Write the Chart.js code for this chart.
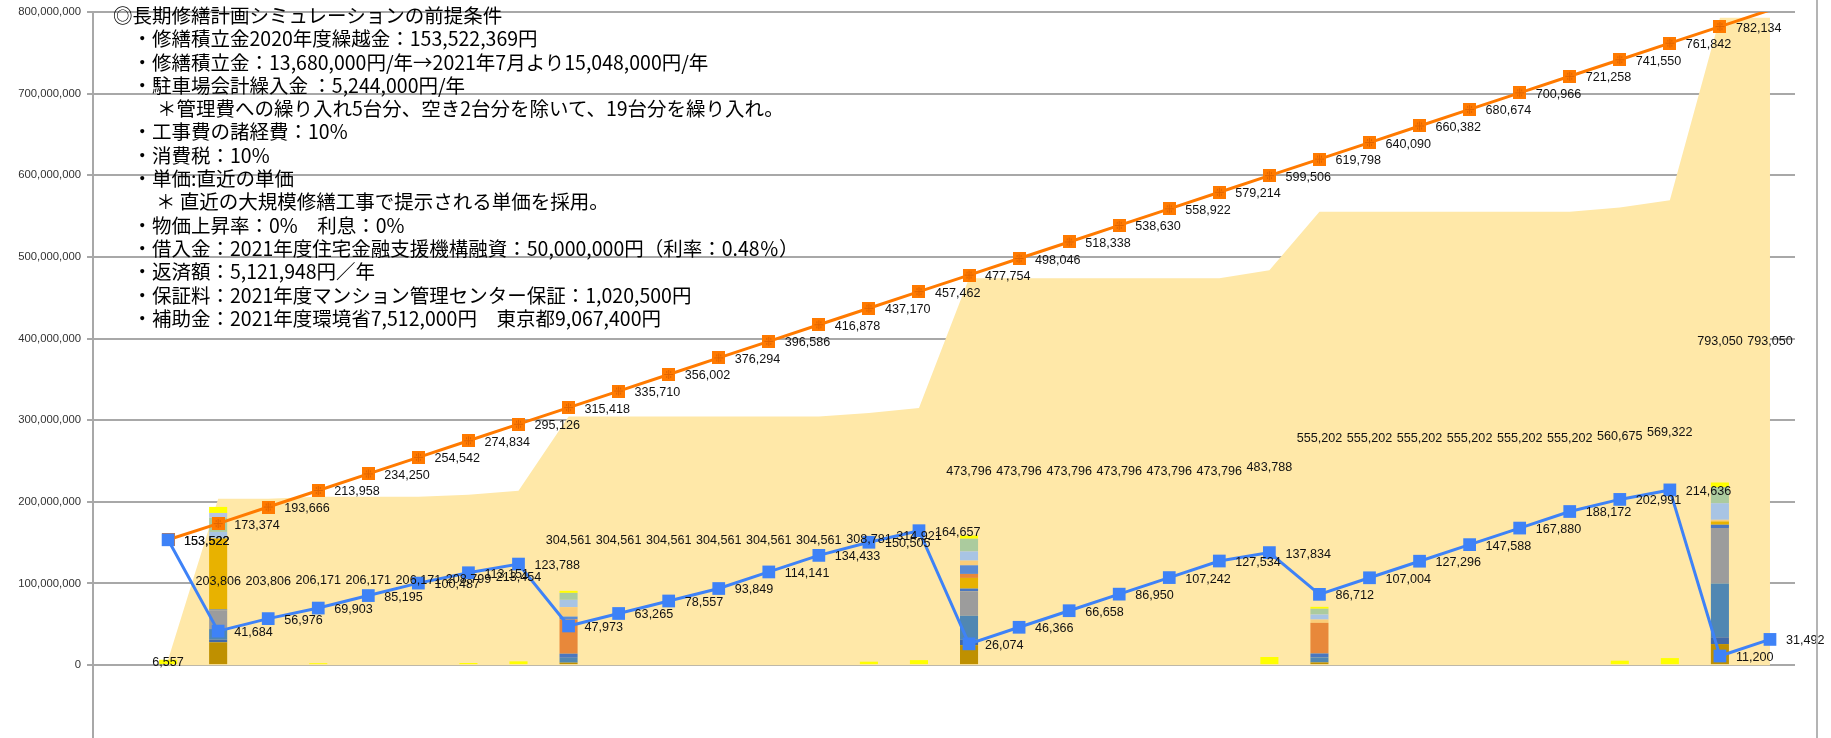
<!DOCTYPE html>
<html lang="ja">
<head>
<meta charset="utf-8">
<title>長期修繕計画シミュレーション</title>
<script src="https://cdn.jsdelivr.net/npm/chart.js@4.4.1/dist/chart.umd.min.js"></script>
<style>
  html, body { margin: 0; padding: 0; background: #fff; overflow: hidden; }
  #wrap { position: relative; width: 1831px; height: 738px; overflow: hidden; }
  #frame { position: absolute; left: 1816px; top: 0; width: 2px; height: 738px; background: #b4b4b4; }
  #notes { position: absolute; left: 113px; top: 3px; font-family: "Noto Sans CJK JP", sans-serif;
           font-size: 19.5px; line-height: 23.3px; color: #000; white-space: pre; }
</style>
</head>
<body>
<div id="wrap">
  <canvas id="chart" width="1831" height="750"></canvas>
  <div id="frame"></div>
  <div id="notes"></div>
</div>
<script>
// values are in thousand yen, as in the data labels
const K = 1000;

// first category is an empty column
const years = ['', '2020', '2021', '2022', '2023', '2024', '2025', '2026', '2027', '2028', '2029',
  '2030', '2031', '2032', '2033', '2034', '2035', '2036', '2037', '2038', '2039',
  '2040', '2041', '2042', '2043', '2044', '2045', '2046', '2047', '2048', '2049',
  '2050', '2051', '2052'];

const balance = [null,
  153522, 41684, 56976, 69903, 85195, 100487, 113151, 123788, 47973, 63265,
  78557, 93849, 114141, 134433, 150505, 164657, 26074, 46366, 66658, 86950,
  107242, 127534, 137834, 86712, 107004, 127296, 147588, 167880, 188172, 202991,
  214636, 11200, 31492];

const incomeTotal = [null,
  153522, 173374, 193666, 213958, 234250, 254542, 274834, 295126, 315418, 335710,
  356002, 376294, 396586, 416878, 437170, 457462, 477754, 498046, 518338, 538630,
  558922, 579214, 599506, 619798, 640090, 660382, 680674, 700966, 721258, 741550,
  761842, 782134, 802426];

const costTotal = [null,
  6557, 203806, 203806, 206171, 206171, 206171, 208799, 213454, 304561, 304561,
  304561, 304561, 304561, 304561, 308781, 314921, 473796, 473796, 473796, 473796,
  473796, 473796, 483788, 555202, 555202, 555202, 555202, 555202, 555202, 560675,
  569322, 793050, 793050];

// yearly works, bottom of the stack first
const works = [
  { name: '仮設工事', color: '#BF9000', data: [null,
    0, 27900, 0, 0, 0, 0, 0, 0, 3000, 0,
    0, 0, 0, 0, 0, 0, 24500, 0, 0, 0,
    0, 0, 0, 3300, 0, 0, 0, 0, 0, 0,
    0, 25800, 0] },
  { name: '屋根防水', color: '#4169A8', data: [null,
    0, 3300, 0, 0, 0, 0, 0, 0, 0, 0,
    0, 0, 0, 0, 0, 0, 6500, 0, 0, 0,
    0, 0, 0, 0, 0, 0, 0, 0, 0, 0,
    0, 8200, 0] },
  { name: '外壁塗装', color: '#5087B2', data: [null,
    0, 13000, 0, 0, 0, 0, 0, 0, 6000, 0,
    0, 0, 0, 0, 0, 0, 29500, 0, 0, 0,
    0, 0, 0, 6100, 0, 0, 0, 0, 0, 0,
    0, 66000, 0] },
  { name: '床防水', color: '#9C9C9C', data: [null,
    0, 23000, 0, 0, 0, 0, 0, 0, 0, 0,
    0, 0, 0, 0, 0, 0, 30000, 0, 0, 0,
    0, 0, 0, 0, 0, 0, 0, 0, 0, 0,
    0, 68000, 0] },
  { name: '鉄部塗装', color: '#4A77C0', data: [null,
    0, 1000, 0, 0, 0, 0, 0, 0, 5000, 0,
    0, 0, 0, 0, 0, 0, 3300, 0, 0, 0,
    0, 0, 0, 4900, 0, 0, 0, 0, 0, 0,
    0, 4000, 0] },
  { name: '建具・金物', color: '#E8B200', data: [null,
    0, 87000, 0, 0, 0, 0, 0, 0, 0, 0,
    0, 0, 0, 0, 0, 0, 13000, 0, 0, 0,
    0, 0, 0, 0, 0, 0, 0, 0, 0, 0,
    0, 4000, 0] },
  { name: '給排水設備', color: '#E8883A', data: [null,
    0, 0, 0, 0, 0, 0, 0, 0, 42000, 0,
    0, 0, 0, 0, 0, 0, 4900, 0, 0, 0,
    0, 0, 0, 37500, 0, 0, 0, 0, 0, 0,
    0, 0, 0] },
  { name: 'ガス設備', color: '#5A8BD3', data: [null,
    0, 0, 0, 0, 0, 0, 0, 0, 3500, 0,
    0, 0, 0, 0, 0, 0, 10600, 0, 0, 0,
    0, 0, 0, 0, 0, 0, 0, 0, 0, 0,
    0, 0, 0] },
  { name: '電気設備', color: '#FBCD78', data: [null,
    0, 0, 0, 0, 0, 0, 0, 0, 11500, 0,
    0, 0, 0, 0, 0, 0, 5700, 0, 0, 0,
    0, 0, 0, 4000, 0, 0, 0, 0, 0, 0,
    0, 2000, 0] },
  { name: '昇降機', color: '#A8C4E4', data: [null,
    0, 8000, 0, 0, 0, 0, 0, 0, 9000, 0,
    0, 0, 0, 0, 0, 0, 11400, 0, 0, 0,
    0, 0, 0, 6300, 0, 0, 0, 0, 0, 0,
    0, 20400, 0] },
  { name: '外構', color: '#ABCB9E', data: [null,
    0, 17600, 0, 0, 0, 0, 0, 0, 8500, 0,
    0, 0, 0, 0, 0, 0, 15500, 0, 0, 0,
    0, 0, 0, 7000, 0, 0, 0, 0, 0, 0,
    0, 19600, 0] },
  { name: '調査・設計', color: '#B6C3E5', data: [null,
    0, 5600, 0, 0, 0, 0, 0, 0, 0, 0,
    0, 0, 0, 0, 0, 0, 0, 0, 0, 0,
    0, 0, 0, 0, 0, 0, 0, 0, 0, 0,
    0, 0, 0] },
  { name: 'その他', color: '#FFFF00', data: [null,
    6557, 7400, 0, 2365, 0, 0, 2628, 4655, 2500, 0,
    0, 0, 0, 0, 4220, 6140, 4000, 0, 0, 0,
    0, 0, 9992, 2300, 0, 0, 0, 0, 0, 5473,
    8647, 5700, 0] }
];

const yTicks = [0, 100000000, 200000000, 300000000, 400000000, 500000000, 600000000, 700000000, 800000000];
const yMin = -91700000;
const yMax = 800000000;

const noteLines = [
  { text: '◎長期修繕計画シミュレーションの前提条件', pad: 0 },
  { text: '・修繕積立金2020年度繰越金：153,522,369円', pad: 1 },
  { text: '・修繕積立金：13,680,000円/年→2021年7月より15,048,000円/年', pad: 1 },
  { text: '・駐車場会計繰入金 ：5,244,000円/年', pad: 1 },
  { text: '＊管理費への繰り入れ5台分、空き2台分を除いて、19台分を繰り入れ。', pad: 2.25 },
  { text: '・工事費の諸経費：10%', pad: 1 },
  { text: '・消費税：10%', pad: 1 },
  { text: '・単価:直近の単価', pad: 1 },
  { text: '＊ 直近の大規模修繕工事で提示される単価を採用。', pad: 2.2 },
  { text: '・物価上昇率：0%　利息：0%', pad: 1 },
  { text: '・借入金：2021年度住宅金融支援機構融資：50,000,000円（利率：0.48％）', pad: 1 },
  { text: '・返済額：5,121,948円／年', pad: 1 },
  { text: '・保証料：2021年度マンション管理センター保証：1,020,500円', pad: 1 },
  { text: '・補助金：2021年度環境省7,512,000円　東京都9,067,400円', pad: 1 }
];

const notes = document.getElementById('notes');
noteLines.forEach(line => {
  const div = document.createElement('div');
  div.textContent = line.text;
  div.style.paddingLeft = line.pad + 'em';
  notes.appendChild(div);
});

const toYen = arr => arr.map(v => v == null ? null : v * K);
const fmt = v => Math.round(v / K).toLocaleString('en-US');

// data labels like Excel: line labels right of the marker, area labels at half height
const valueLabels = {
  id: 'valueLabels',
  afterDatasetsDraw(chart) {
    const ctx = chart.ctx;
    const y = chart.scales.y;
    ctx.save();
    ctx.font = '12.6px "Liberation Sans", Arial, sans-serif';
    ctx.fillStyle = '#111';
    ctx.textBaseline = 'middle';
    const order = [3, 1, 0].map(o => chart.data.datasets.findIndex(d => d.order === o && d.labelPos));
    order.forEach(i => {
      if (i < 0) return;
      const ds = chart.data.datasets[i];
      const meta = chart.getDatasetMeta(i);
      meta.data.forEach((pt, j) => {
        const v = ds.data[j];
        if (v == null || v > yMax) return;
        if (ds.labelPos === 'right') {
          ctx.textAlign = 'left';
          ctx.fillText(fmt(v), pt.x + 16, pt.y + 1.5);
        } else {
          ctx.textAlign = 'center';
          ctx.fillText(fmt(v), pt.x, y.getPixelForValue(v / 2));
        }
      });
    });
    ctx.restore();
  }
};

const blue = '#3E82F7';
const orange = '#FF7A00';

// orange marker with the small cross pattern seen in the original
function orangeMarker() {
  const c = document.createElement('canvas');
  c.width = 13; c.height = 13;
  const g = c.getContext('2d');
  g.fillStyle = orange;
  g.fillRect(0, 0, 13, 13);
  g.fillStyle = '#E06400';
  g.fillRect(6, 2, 1, 9);
  g.fillRect(2, 6, 9, 1);
  g.fillRect(4, 3, 1, 2);
  g.fillRect(8, 3, 1, 2);
  g.fillRect(4, 8, 1, 2);
  g.fillRect(8, 8, 1, 2);
  return c;
}
const orangeSquare = orangeMarker();

const datasets = [
  {
    type: 'line', label: '修繕積立金残高', data: toYen(balance), order: 0, stack: 'balance',
    borderColor: blue, backgroundColor: blue, borderWidth: 3, tension: 0, fill: false,
    pointStyle: 'rect', pointRadius: 9, pointBorderWidth: 0, labelPos: 'right'
  },
  {
    type: 'line', label: '収入累計', data: toYen(incomeTotal), order: 1, stack: 'income',
    borderColor: orange, backgroundColor: orange, borderWidth: 3, tension: 0, fill: false,
    pointStyle: orangeSquare, pointRadius: c => (c.raw > yMax ? 0 : 7), labelPos: 'right'
  }
];

works.forEach(w => {
  datasets.push({
    type: 'bar', label: w.name, data: toYen(w.data), order: 2, stack: 'works',
    backgroundColor: w.color, borderWidth: 0, barPercentage: 0.95, categoryPercentage: 0.38
  });
});

datasets.push({
  type: 'line', label: '支出累計', data: toYen(costTotal), order: 3, stack: 'cost',
  borderWidth: 0, borderColor: 'rgba(0,0,0,0)', backgroundColor: '#FFE8A8',
  fill: 'origin', pointRadius: 0, tension: 0, labelPos: 'mid'
});

new Chart(document.getElementById('chart'), {
  type: 'bar',
  data: { labels: years, datasets: datasets },
  options: {
    responsive: false,
    animation: false,
    devicePixelRatio: 1,
    layout: { padding: { top: 12, right: 36, bottom: 0, left: 0 } },
    plugins: { legend: { display: false }, tooltip: { enabled: false } },
    scales: {
      x: { display: false, stacked: true, offset: true },
      y: {
        stacked: true,
        min: yMin,
        max: yMax,
        afterBuildTicks(scale) { scale.ticks = yTicks.map(v => ({ value: v })); },
        afterFit(scale) { scale.width = 93; scale.paddingTop = 0; scale.paddingBottom = 0; },
        ticks: {
          callback: v => v.toLocaleString('en-US'),
          font: { family: '"Liberation Sans", Arial, sans-serif', size: 11.3 },
          color: '#333',
          padding: 6
        },
        grid: { color: '#A8A8A8', lineWidth: 2, tickLength: 6 },
        border: { color: '#A8A8A8', width: 2 }
      }
    }
  },
  plugins: [valueLabels]
});
</script>
</body>
</html>
